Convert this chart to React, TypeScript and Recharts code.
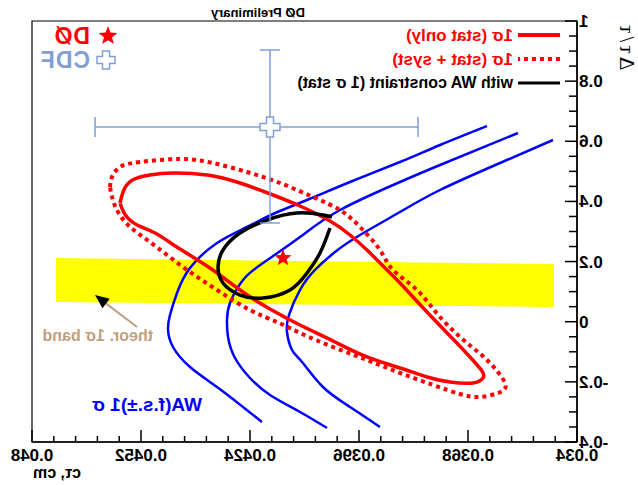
import React from 'react';
import { ComposedChart, Line, Area, Scatter, XAxis, YAxis, ErrorBar, ReferenceArea, Customized } from 'recharts';

// ---- axis ticks ----
const xMajorLabels = ['0.034', '0.0368', '0.0396', '0.0424', '0.0452', '0.048'];
const yMajorLabels = ['-0.4', '-0.2', '0', '0.2', '0.4', '0.6', '0.8', '1'];
const xTicks = Array.from({ length: 26 }, (_, i) => +(0.034 + i * 0.00056).toFixed(5));
const yTicks = Array.from({ length: 29 }, (_, i) => +(-0.4 + i * 0.05).toFixed(2));

// ---- data (c tau [cm], dtau/tau) ----
const redStatOnly: [number, number][] = [
  [0.045740, 0.3948], [0.045640, 0.438], [0.045420, 0.4713], [0.044969, 0.4879], [0.044378, 0.4945],
  [0.043505, 0.4879], [0.042657, 0.4613], [0.041809, 0.4214], [0.041116, 0.3848], [0.040345, 0.3349],
  [0.039831, 0.2884], [0.039395, 0.2385], [0.038984, 0.1853], [0.038547, 0.1287], [0.037853, 0.0323],
  [0.037185, -0.0575], [0.036749, -0.1173], [0.03644, -0.1639], [0.036415, -0.1872], [0.036672, -0.2038],
  [0.037262, -0.2005], [0.037853, -0.1838], [0.038547, -0.1539], [0.039395, -0.1173], [0.040268, -0.0641],
  [0.041116, -0.0109], [0.041886, 0.0423], [0.042657, 0.1055], [0.043428, 0.1786], [0.044198, 0.2418],
  [0.04484, 0.295], [0.045300, 0.3216], [0.045600, 0.3549], [0.045740, 0.3948],
];
const redStatSyst: [number, number][] = [
  [0.045996, 0.448], [0.045945, 0.4812], [0.045739, 0.5145], [0.045226, 0.5311], [0.044198, 0.5411],
  [0.04335, 0.5278], [0.042477, 0.4979], [0.041629, 0.4613], [0.040782, 0.4147], [0.040088, 0.3715],
  [0.039574, 0.315], [0.039061, 0.2385], [0.038727, 0.172], [0.03811, 0.1055], [0.037519, 0.0157],
  [0.036826, -0.0708], [0.036312, -0.1273], [0.03585, -0.2038], [0.036029, -0.2371], [0.036492, -0.2503],
  [0.037006, -0.2404], [0.037699, -0.2104], [0.038547, -0.1705], [0.039395, -0.1273], [0.040268, -0.0841],
  [0.041116, -0.0375], [0.041706, -0.001], [0.0424, 0.039], [0.043248, 0.1055], [0.044121, 0.182],
  [0.044969, 0.2651], [0.045534, 0.3216], [0.045868, 0.3848], [0.045996, 0.448],
];
const waConstraint: [number, number][] = [
  [0.040345, 0.3116], [0.040602, 0.2285], [0.040936, 0.162], [0.041372, 0.1055], [0.042066, 0.0789],
  [0.042657, 0.0888], [0.043094, 0.1287], [0.043222, 0.182], [0.043094, 0.2385], [0.042657, 0.295],
  [0.041963, 0.3382], [0.041193, 0.3615], [0.040525, 0.3549], [0.040294, 0.3482],
];
const waBlue1: [number, number][] = [
  [0.036312, 0.6508], [0.037519, 0.5877], [0.038547, 0.5311], [0.039831, 0.4646], [0.040936, 0.4048],
  [0.041809, 0.3582], [0.042477, 0.315], [0.043248, 0.2618], [0.043941, 0.1786], [0.044275, 0.0955],
  [0.044455, 0.0223], [0.044506, -0.0276], [0.044378, -0.0841], [0.043941, -0.1506], [0.043248, -0.2171],
  [0.04258, -0.2836], [0.042092, -0.3335],
];
const waBlue2: [number, number][] = [
  [0.035516, 0.6276], [0.037519, 0.5211], [0.038547, 0.4646], [0.040088, 0.3715], [0.041116, 0.2817],
  [0.042066, 0.1953], [0.04258, 0.1387], [0.042914, 0.0622], [0.042991, 0.0057], [0.042965, -0.0508],
  [0.042785, -0.1207], [0.0424, -0.1872], [0.041886, -0.2437], [0.041116, -0.3002], [0.040422, -0.3534],
];
const waBlue3: [number, number][] = [
  [0.034617, 0.6043], [0.035978, 0.5278], [0.037519, 0.438], [0.038547, 0.3649], [0.039574, 0.2884],
  [0.040217, 0.2318], [0.04073, 0.172], [0.041116, 0.1055], [0.041398, 0.0223], [0.04145, -0.0342],
  [0.041321, -0.0941], [0.041064, -0.134], [0.040525, -0.2171], [0.039831, -0.2836], [0.039061, -0.3501],
];
const theoryBand = [
  { x: 0.034591, range: [0.0489, 0.1919] },
  { x: 0.047383, range: [0.0656, 0.2119] },
];
const cdfPoint = [{ x: 0.041886, y: 0.6475, ex: [0.003802, 0.004494], ey: [0.3192, 0.2561] }];
const d0Point = [{ x: 0.041552, y: 0.2119 }];
const arrowTip = [{ x: 0.046382, y: 0.0888 }];

const toPts = (a: [number, number][]) => a.map(([x, y]) => ({ x, y }));

const FONT = 'Liberation Sans, Arial, sans-serif';
const RED = '#ff0000';
const BLUE = '#0000ff';
const CDF = '#7f9fd8';
const TAN = '#bf9f80';

const starPoints = (cx: number, cy: number, R: number, r: number) => {
  const pts: string[] = [];
  for (let i = 0; i < 10; i++) {
    const rad = i % 2 === 0 ? R : r;
    const ang = -Math.PI / 2 + (i * Math.PI) / 5;
    pts.push(`${cx + rad * Math.cos(ang)},${cy + rad * Math.sin(ang)}`);
  }
  return pts.join(' ');
};
const plusPoints = (cx: number, cy: number, s: number, a: number) => {
  const h = s / 2;
  const p = [[-a, -h], [a, -h], [a, -a], [h, -a], [h, a], [a, a], [a, h], [-a, h], [-a, a], [-h, a], [-h, -a], [-a, -a]];
  return p.map(([x, y]) => `${cx + x},${cy + y}`).join(' ');
};

const ArrowShape = (p: any) => {
  const { cx, cy } = p;
  return (
    <g>
      <line x1={cx - 42} y1={cy + 32} x2={cx - 10} y2={cy + 7.6} stroke={TAN} strokeWidth={2} />
      <polygon points={`${cx},${cy} ${cx - 7.5},${cy + 13.3} ${cx - 14.7},${cy + 3.7}`} fill="#000" />
    </g>
  );
};

const XTick = (props: any) => {
  const { x, y, index } = props;
  const major = index % 5 === 0;
  return (
    <g>
      <line x1={x} y1={y} x2={x} y2={y - (major ? 12 : 6)} stroke="#000" strokeWidth={1.5} />
      {major && (
        <text x={x} y={y + 19} textAnchor="middle" fontSize={17} fontWeight="bold" fontFamily={FONT} fill="#000">
          {xMajorLabels[index / 5]}
        </text>
      )}
    </g>
  );
};
const YTick = (props: any) => {
  const { x, y, index } = props;
  const major = index % 4 === 0;
  return (
    <g>
      <line x1={x} y1={y} x2={x + (major ? 12 : 8)} y2={y} stroke="#000" strokeWidth={1.5} />
      {major && (
        <text x={x - 2} y={y + 6} textAnchor="end" fontSize={17} fontWeight="bold" fontFamily={FONT} fill="#000">
          {yMajorLabels[index / 4]}
        </text>
      )}
    </g>
  );
};

const Annotations = () => (
  <g fontFamily={FONT} fontWeight="bold">
    <text x={380} y={17} textAnchor="middle" fontSize={13} fill="#000">DØ Preliminary</text>
    <text transform="translate(18,22) rotate(-90)" textAnchor="end" fontSize={21} fontWeight="normal"
      letterSpacing={3} fontFamily="Liberation Serif, Times New Roman, serif" fill="#000">Δτ/τ</text>
    <text x={605} y={478} textAnchor="end" fontSize={16} fill="#000">cτ, cm</text>
    {/* legend */}
    <line x1={78} y1={35} x2={120} y2={35} stroke={RED} strokeWidth={4} />
    <text x={125} y={41} fontSize={17} fill={RED}>1σ (stat only)</text>
    <line x1={78} y1={59} x2={120} y2={59} stroke={RED} strokeWidth={4} strokeDasharray="4 4" />
    <text x={125} y={65} fontSize={17} fill={RED}>1σ (stat + syst)</text>
    <line x1={78} y1={83} x2={120} y2={83} stroke="#000" strokeWidth={3} />
    <text x={125} y={88} fontSize={16} fill="#000">with WA constraint (1 σ stat)</text>
    <polygon points={starPoints(530, 36, 10, 4.2)} fill={RED} />
    <text x={548} y={44} fontSize={23} letterSpacing={1} fill={RED}>DØ</text>
    <polygon points={plusPoints(532, 60, 18, 3.5)} fill="#fff" stroke={CDF} strokeWidth={1.5} />
    <text x={548} y={68} fontSize={23} letterSpacing={1} fill={CDF}>CDF</text>
    <text x={485} y={341} fontSize={16} fill={TAN}>theor. 1σ band</text>
    <text x={436} y={411} fontSize={19} fill={BLUE}>WA(f.s.±)1 σ</text>
  </g>
);

export default function App() {
  return (
    <div style={{ position: 'absolute', left: 0, top: 0, width: 638, height: 485, background: '#fff', transform: 'scaleX(-1)' }}>
      <ComposedChart width={638} height={485} margin={{ top: 21, right: 32, bottom: 0, left: 0 }}>
        <XAxis
          dataKey="x" type="number" domain={[0.034, 0.048]} ticks={xTicks} interval={0}
          height={43} tickSize={0} tickMargin={0} tickLine={false} tick={<XTick />}
          axisLine={{ stroke: '#000', strokeWidth: 1.5 }} allowDataOverflow
        />
        <YAxis
          dataKey="y" type="number" domain={[-0.4, 1]} ticks={yTicks} interval={0}
          width={61} tickSize={0} tickMargin={0} tickLine={false} tick={<YTick />}
          axisLine={{ stroke: '#000', strokeWidth: 1.5 }} allowDataOverflow
        />
        <Area data={theoryBand} dataKey="range" type="linear" fill="#ffff00" fillOpacity={1} stroke="none" isAnimationActive={false} />
        <ReferenceArea x1={0.034} x2={0.048} y1={-0.4} y2={1} fill="none" fillOpacity={0} stroke="#000" strokeWidth={1.2} />
        <Line data={toPts(waBlue1)} dataKey="y" type="natural" stroke={BLUE} strokeWidth={2.5} dot={false} isAnimationActive={false} />
        <Line data={toPts(waBlue2)} dataKey="y" type="natural" stroke={BLUE} strokeWidth={2.5} dot={false} isAnimationActive={false} />
        <Line data={toPts(waBlue3)} dataKey="y" type="natural" stroke={BLUE} strokeWidth={2.5} dot={false} isAnimationActive={false} />
        <Line data={toPts(redStatSyst)} dataKey="y" type="natural" stroke={RED} strokeWidth={4} strokeDasharray="4 4" dot={false} isAnimationActive={false} />
        <Line data={toPts(redStatOnly)} dataKey="y" type="natural" stroke={RED} strokeWidth={3.5} dot={false} isAnimationActive={false} />
        <Line data={toPts(waConstraint)} dataKey="y" type="natural" stroke="#000" strokeWidth={3.5} dot={false} isAnimationActive={false} />
        <Scatter data={cdfPoint} dataKey="y" isAnimationActive={false}
          shape={(p: any) => <polygon points={plusPoints(p.cx, p.cy, 20, 3.5)} fill="#fff" stroke={CDF} strokeWidth={1.5} />}>
          <ErrorBar dataKey="ex" direction="x" width={10} stroke={CDF} strokeWidth={1.5} />
          <ErrorBar dataKey="ey" direction="y" width={10} stroke={CDF} strokeWidth={1.5} />
        </Scatter>
        <Scatter data={d0Point} dataKey="y" isAnimationActive={false}
          shape={(p: any) => <polygon points={starPoints(p.cx, p.cy, 9, 3.8)} fill={RED} />} />
        <Scatter data={arrowTip} dataKey="y" isAnimationActive={false} shape={ArrowShape} />
        <Customized component={Annotations} />
      </ComposedChart>
    </div>
  );
}
